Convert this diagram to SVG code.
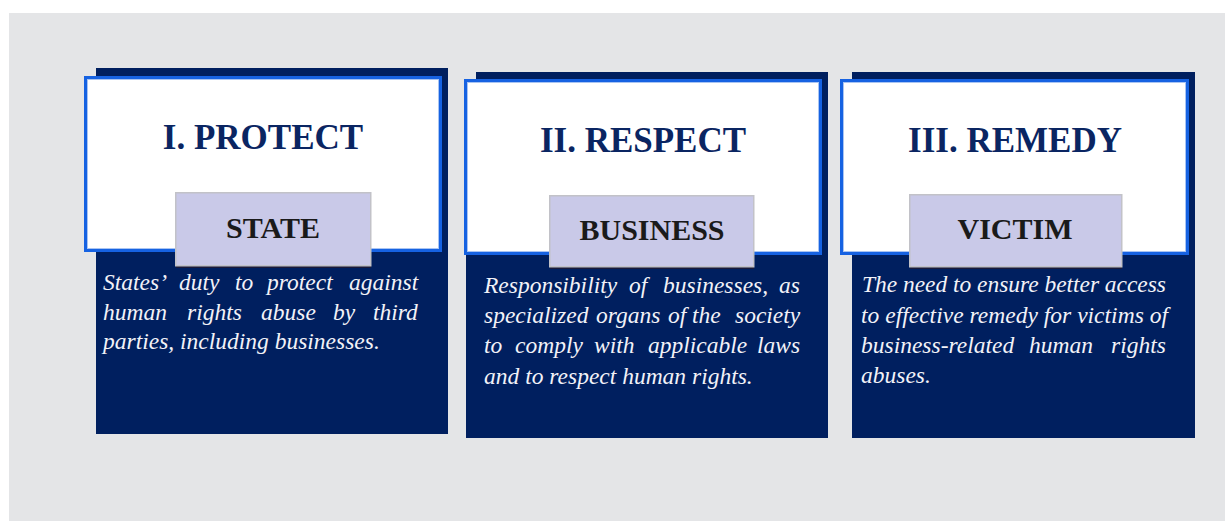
<svg xmlns="http://www.w3.org/2000/svg" width="1225" height="521" viewBox="0 0 1225 521">
<style>
.dark{fill:#001f5f}
.wbox{fill:#ffffff;stroke:#1662e2;stroke-width:3}
.winner{fill:none;stroke:#a9c4f2;stroke-width:1}
.lbl{fill:#c9c9e8;stroke:#c2c2c8;stroke-width:1.5}
.shadow{fill:#1b1b3a}
.title{font-family:"Liberation Serif","Times New Roman",serif;font-weight:bold;font-size:35px;fill:#0a2562;text-anchor:middle}
.ltxt{font-family:"Liberation Serif","Times New Roman",serif;font-weight:bold;font-size:30px;fill:#1a1a1a;text-anchor:middle}
.body{font-family:"Liberation Serif","Times New Roman",serif;font-style:italic;font-size:23.5px;fill:#f2f2f8}
</style>
<rect x="0" y="0" width="1225" height="521" fill="#ffffff"/>
<rect x="9" y="13" width="1216" height="508" fill="#e4e5e7"/>

<g id="node-protect">
  <rect class="dark" x="96" y="68" width="352" height="366"/>
  <rect class="wbox" x="85.5" y="77.5" width="355" height="173"/>
  <rect class="winner" x="87.5" y="79.5" width="351" height="169"/>
  <text class="title" x="263" y="149">I. PROTECT</text>
  <rect class="shadow" x="176" y="265" width="195" height="3"/>
  <rect class="lbl" x="175.75" y="192.75" width="195" height="73"/>
  <text class="ltxt" x="273" y="238">STATE</text>
  <text class="body" y="290"><tspan x="103">States’</tspan><tspan x="179">duty</tspan><tspan x="235">to</tspan><tspan x="267">protect</tspan><tspan x="349">against</tspan></text>
  <text class="body" y="320"><tspan x="103">human</tspan><tspan x="187">rights</tspan><tspan x="261">abuse</tspan><tspan x="333">by</tspan><tspan x="373">third</tspan></text>
  <text class="body" x="103" y="349">parties, including businesses.</text>
</g>

<g id="node-respect">
  <rect class="dark" x="476" y="72" width="352" height="366"/>
  <rect class="dark" x="466" y="250" width="20" height="188"/>
  <rect class="wbox" x="465.5" y="80.5" width="355" height="173"/>
  <rect class="winner" x="467.5" y="82.5" width="351" height="169"/>
  <text class="title" x="643" y="152">II. RESPECT</text>
  <rect class="shadow" x="550" y="266" width="204" height="3"/>
  <rect class="lbl" x="549.75" y="195.75" width="204" height="71"/>
  <text class="ltxt" x="652" y="240">BUSINESS</text>
  <text class="body" y="293"><tspan x="484">Responsibility</tspan><tspan x="629">of</tspan><tspan x="663">businesses,</tspan><tspan x="779">as</tspan></text>
  <text class="body" y="323"><tspan x="484">specialized</tspan><tspan x="596">organs</tspan><tspan x="668">of</tspan><tspan x="692">the</tspan><tspan x="735">society</tspan></text>
  <text class="body" y="353"><tspan x="484">to</tspan><tspan x="515">comply</tspan><tspan x="594">with</tspan><tspan x="648">applicable</tspan><tspan x="757">laws</tspan></text>
  <text class="body" x="484" y="384">and to respect human rights.</text>
</g>

<g id="node-remedy">
  <rect class="dark" x="852" y="72" width="343" height="366"/>
  <rect class="wbox" x="841.5" y="80.5" width="346" height="173"/>
  <rect class="winner" x="843.5" y="82.5" width="342" height="169"/>
  <text class="title" x="1015" y="152">III. REMEDY</text>
  <rect class="shadow" x="910" y="266" width="212" height="3"/>
  <rect class="lbl" x="909.75" y="194.75" width="212" height="72"/>
  <text class="ltxt" x="1015" y="239">VICTIM</text>
  <text class="body" x="862" y="292" textLength="304" lengthAdjust="spacing">The need to ensure better access</text>
  <text class="body" x="861" y="323" textLength="307" lengthAdjust="spacing">to effective remedy for victims of</text>
  <text class="body" y="353"><tspan x="861">business-related</tspan><tspan x="1029">human</tspan><tspan x="1111">rights</tspan></text>
  <text class="body" x="861" y="383">abuses.</text>
</g>

<g id="connectors"></g>
</svg>
